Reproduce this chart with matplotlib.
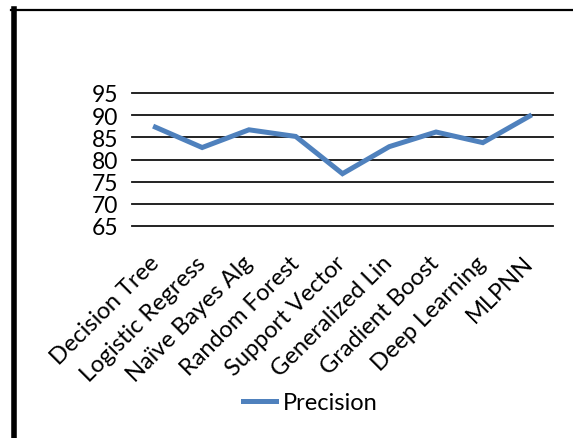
import matplotlib
matplotlib.use("Agg")
import matplotlib.pyplot as plt
from matplotlib.lines import Line2D

categories = ["Decision Tree", "Logistic Regress", "Naïve Bayes Alg", "Random Forest",
              "Support Vector", "Generalized Lin", "Gradient Boost", "Deep Learning", "MLPNN"]
precision = [87.3, 82.7, 86.7, 85.2, 76.8, 82.9, 86.2, 83.8, 89.8]
yticks = [65, 70, 75, 80, 85, 90, 95]

plt.rcParams['font.family'] = ['Lato', 'DejaVu Sans']

W, H = 573, 439
fig = plt.figure(figsize=(W / 100, H / 100), dpi=100)

# plot area in pixel coordinates (left, top, right, bottom)
x0, x1 = 132, 553
ytop, ybot = 94, 227
ax = fig.add_axes([x0 / W, 1 - ybot / H, (x1 - x0) / W, (ybot - ytop) / H])

x = list(range(len(categories)))
ax.plot(x, precision, color="#4F81BD", lw=3.6, solid_joinstyle="miter", zorder=3,
        label="Precision")

ax.set_xlim(-0.5, len(categories) - 0.5)
ax.set_ylim(65, 95)
for v in yticks:
    ax.axhline(v, color="#111111", lw=1.3, clip_on=False, zorder=1)

for s in ax.spines.values():
    s.set_visible(False)

ax.set_yticks(yticks)
ax.set_yticklabels([str(v) for v in yticks], fontsize=16.5)
ax.tick_params(axis="y", length=0, pad=10)

ax.set_xticks(x)
ax.set_xticklabels(categories, fontsize=17, rotation=45, ha="right", va="center",
                   rotation_mode="anchor")
ax.tick_params(axis="x", length=0, pad=24)

leg = fig.legend(handles=[Line2D([], [], color="#4F81BD", lw=3.6)], labels=["Precision"],
                 loc="center", bbox_to_anchor=(310 / W, 1 - 404 / H), frameon=False,
                 fontsize=17, handlelength=1.4, handletextpad=0.3)

# outer frame: heavy left edge and thin top edge
fig.add_artist(Line2D([13.5 / W, 13.5 / W], [0, 1 - 10 / H], color="black", lw=4.0,
                      transform=fig.transFigure))
fig.add_artist(Line2D([11 / W, 1], [1 - 11 / H, 1 - 11 / H], color="black", lw=1.6,
                      transform=fig.transFigure))

fig.savefig("out.png", dpi=100)
